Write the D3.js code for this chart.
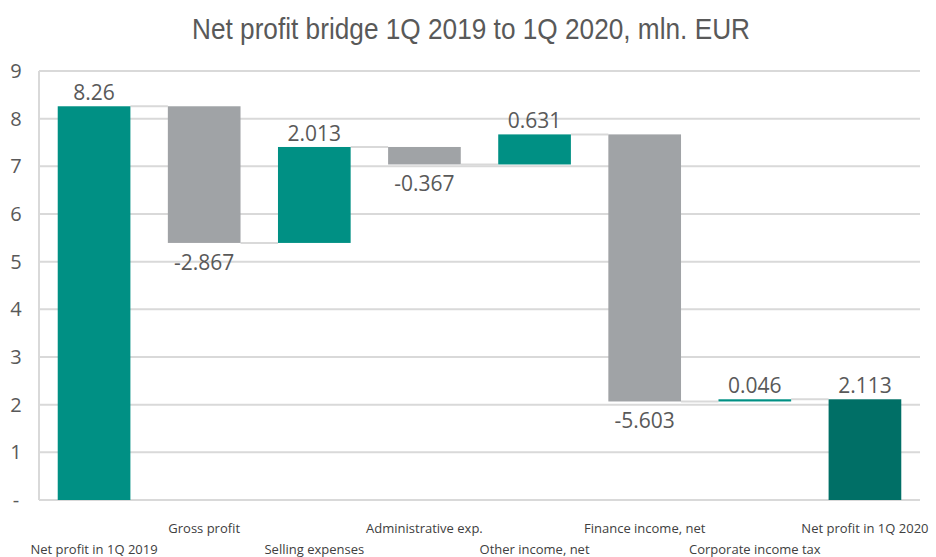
<!DOCTYPE html>
<html>
<head>
<meta charset="utf-8">
<script src="https://cdn.jsdelivr.net/npm/d3@7"></script>
<style>
  body { margin: 0; background: #fff; }
  svg text { font-family: "Open Sans", "DejaVu Sans", sans-serif; }
</style>
</head>
<body>
<svg id="chart" width="936" height="557"></svg>
<script>
// Data
const categories = ["Net profit in 1Q 2019", "Gross profit", "Selling expenses", "Administrative exp.",
    "Other income, net", "Finance income, net", "Corporate income tax", "Net profit in 1Q 2020"];
const changes = [8.26, -2.867, 2.013, -0.367, 0.631, -5.603, 0.046, 2.113];
const labels = ["8.26", "-2.867", "2.013", "-0.367", "0.631", "-5.603", "0.046", "2.113"];
const kinds = ["total", "delta", "delta", "delta", "delta", "delta", "delta", "total"];
const yTicks = [0, 1, 2, 3, 4, 5, 6, 7, 8, 9];

// Build waterfall steps
let run = 0;
const steps = categories.map((c, i) => {
    let lo, hi;
    if (kinds[i] === "total") {
        lo = 0; hi = changes[i]; run = changes[i];
    } else {
        const start = run;
        run = run + changes[i];
        lo = Math.min(start, run); hi = Math.max(start, run);
    }
    return { cat: c, i, lo, hi, end: run, value: changes[i], label: labels[i], kind: kinds[i] };
});

const svg = d3.select("#chart");
const margin = { left: 39, right: 16, top: 71, bottom: 57 };
const W = 936, H = 557;

const x = d3.scaleBand().domain(categories).range([margin.left, W - margin.right]).paddingInner(0.34).paddingOuter(0.17);
const y = d3.scaleLinear().domain([0, 9]).range([H - margin.bottom, margin.top]);

// Title (condensed look, like the original)
svg.append("text")
    .attr("x", 471).attr("y", 39)
    .attr("text-anchor", "middle")
    .attr("textLength", 558)
    .attr("lengthAdjust", "spacingAndGlyphs")
    .style("font-family", "'Liberation Sans', Arial, sans-serif")
    .style("font-size", "29px")
    .attr("fill", "#595959")
    .text("Net profit bridge 1Q 2019 to 1Q 2020, mln. EUR");

// Gridlines
svg.append("g").selectAll("line")
    .data(yTicks).enter().append("line")
    .attr("x1", margin.left).attr("x2", W - margin.right)
    .attr("y1", d => y(d)).attr("y2", d => y(d))
    .attr("stroke", "#d9d9d9").attr("stroke-width", 2);

// Left axis line
svg.append("line")
    .attr("x1", margin.left).attr("x2", margin.left)
    .attr("y1", y(9)).attr("y2", y(0))
    .attr("stroke", "#d9d9d9").attr("stroke-width", 2);

// Y tick labels
svg.append("g").selectAll("text")
    .data(yTicks).enter().append("text")
    .attr("x", 16).attr("y", d => y(d) + 7)
    .attr("text-anchor", "middle")
    .style("font-size", "20px")
    .attr("fill", "#595959")
    .text(d => d === 0 ? "-" : d);

// Connectors
svg.append("g").selectAll("line")
    .data(steps.slice(0, -1)).enter().append("line")
    .attr("x1", d => x(d.cat) + x.bandwidth())
    .attr("x2", d => x(categories[d.i + 1]))
    .attr("y1", d => y(d.end)).attr("y2", d => y(d.end))
    .attr("stroke", "#d9d9d9").attr("stroke-width", 2);

// Bars
const colorOf = d => {
    if (d.i === categories.length - 1) return "#006f66";
    return d.value >= 0 ? "#009084" : "#a0a3a6";
};
svg.append("g").selectAll("rect")
    .data(steps).enter().append("rect")
    .attr("x", d => x(d.cat))
    .attr("width", x.bandwidth())
    .attr("y", d => y(d.hi))
    .attr("height", d => Math.max(2, y(d.lo) - y(d.hi)))
    .attr("fill", colorOf);

// Value labels
svg.append("g").selectAll("text")
    .data(steps).enter().append("text")
    .attr("x", d => x(d.cat) + x.bandwidth() / 2)
    .attr("y", d => d.value >= 0 ? y(d.hi) - 6 : y(d.lo) + 27)
    .attr("text-anchor", "middle")
    .style("font-size", "21px")
    .attr("fill", "#595959")
    .text(d => d.label);

// Category labels, staggered in two rows
svg.append("g").selectAll("text")
    .data(steps).enter().append("text")
    .attr("x", d => x(d.cat) + x.bandwidth() / 2)
    .attr("y", d => d.i % 2 === 1 ? 533 : 554)
    .attr("text-anchor", "middle")
    .style("font-size", "13px")
    .attr("fill", "#404040")
    .text(d => d.cat);
</script>
</body>
</html>
